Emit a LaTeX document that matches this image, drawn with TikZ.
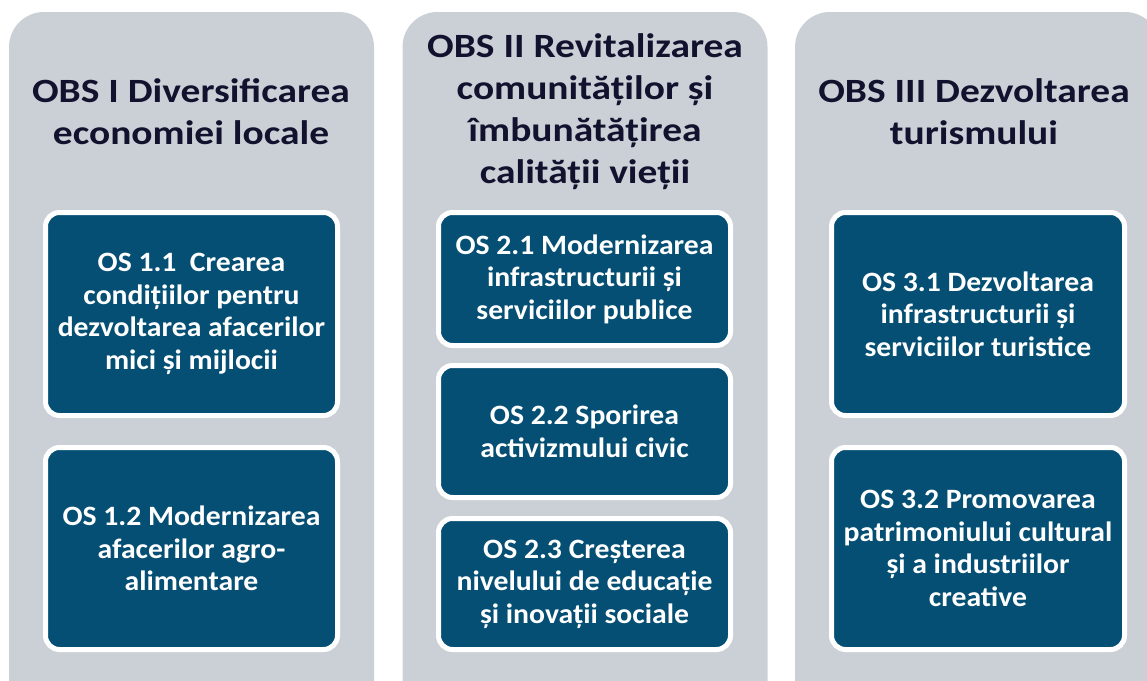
\documentclass[tikz,border=0pt]{standalone}
\usepackage{fontspec}
\setmainfont{Carlito}
\newfontfamily\titlefont[FakeStretch=1.16]{Carlito}
\newfontfamily\boxfont[FakeStretch=1.06]{Carlito}
\definecolor{colgray}{HTML}{CBD0D7}
\definecolor{osteal}{HTML}{044F73}
\definecolor{titlenavy}{HTML}{12122E}
\begin{document}
\begin{tikzpicture}[x=1pt,y=-1pt,
  colbox/.style={fill=colgray, draw=none, rounded corners=35pt, inner sep=0pt, minimum width=365pt, minimum height=720pt},
  coltitle/.style={text=titlenavy, font=\titlefont\bfseries\fontsize{34}{42}\selectfont, align=center, inner sep=0pt},
  osbox/.style={fill=osteal, draw=white, line width=5pt, rounded corners=14pt, text=white,
    font=\boxfont\bfseries\fontsize{28}{32.5}\selectfont, align=center, inner sep=0pt, minimum width=292pt}
]
\useasboundingbox (0,0) rectangle (1147,680);
\clip (0,0) rectangle (1147,680);
\fill[white] (0,0) rectangle (1147,680);

\node[colbox] (c1) at (191.5,372) {};
\node[colbox] (c2) at (585,372) {};
\node[colbox] (c3) at (977.5,372) {};

\node[coltitle] (t1) at (191,112) {OBS I Diversificarea\\economiei locale};
\node[coltitle] (t2) at (585,112) {OBS II Revitalizarea\\comunităților și\\îmbunătățirea\\calității vieții};
\node[coltitle] (t3) at (974,112) {OBS III Dezvoltarea\\turismului};

\node[osbox, minimum height=203pt] (o11) at (191.5,314) {OS 1.1\ \ Crearea\\condițiilor pentru\\dezvoltarea afacerilor\\mici și mijlocii};
\node[osbox, minimum height=202pt] (o12) at (191.5,548.5) {OS 1.2 Modernizarea\\afacerilor agro-\\alimentare};

\node[osbox, minimum height=133pt] (o21) at (584.5,279) {OS 2.1 Modernizarea\\infrastructurii și\\serviciilor publice};
\node[osbox, minimum height=132pt] (o22) at (584.5,431.5) {OS 2.2 Sporirea\\activizmului civic};
\node[osbox, minimum height=131pt] (o23) at (584.5,584) {OS 2.3 Creșterea\\nivelului de educație\\și inovații sociale};

\node[osbox, minimum height=203pt, minimum width=293pt] (o31) at (978,314) {OS 3.1 Dezvoltarea\\infrastructurii și\\serviciilor turistice};
\node[osbox, minimum height=202pt, minimum width=293pt] (o32) at (978,548.5) {OS 3.2 Promovarea\\patrimoniului cultural\\și a industriilor\\creative};
\end{tikzpicture}
\end{document}
